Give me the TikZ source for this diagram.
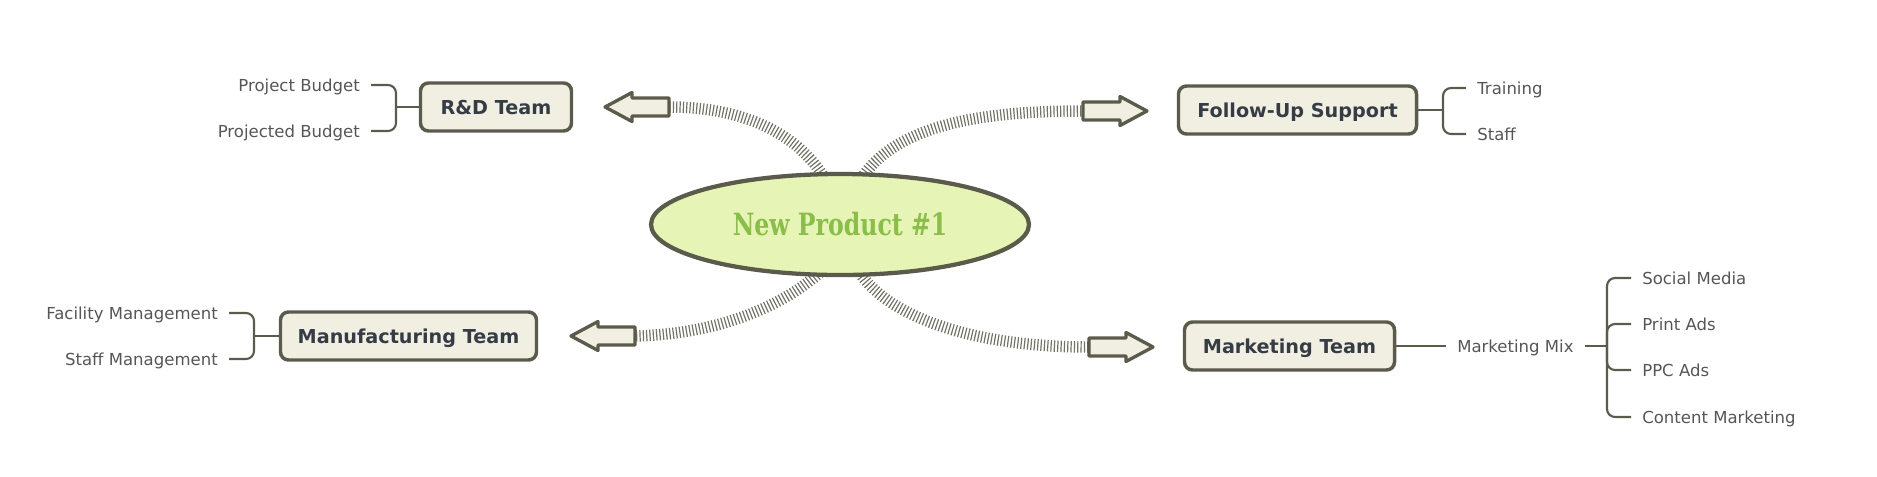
\documentclass[tikz,border=0pt]{standalone}
\usepackage{graphicx}
\usepackage{fontspec}
\setmainfont{DejaVu Sans}
\newfontfamily\slabfont{DejaVu Serif}
\usetikzlibrary{shapes.geometric,backgrounds,calc}
\definecolor{edge}{HTML}{5B5B4C}
\definecolor{boxfill}{HTML}{F0EFE2}
\definecolor{boxtext}{HTML}{363C45}
\definecolor{leaftext}{HTML}{565656}
\definecolor{ellfill}{HTML}{E6F4B6}
\definecolor{titlegreen}{HTML}{8ABD4A}
\definecolor{hatchc}{HTML}{727266}
\begin{document}
\begin{tikzpicture}[x=0.75pt,y=-0.75pt,
  topic/.style={draw=edge, line width=2.6pt, fill=boxfill, rounded corners=6pt,
    minimum height=36pt, inner sep=0pt, text height=10.5pt, text depth=0pt,
    font=\fontsize{14.4pt}{16pt}\selectfont\bfseries, text=boxtext},
  leaf/.style={inner ysep=0pt, inner xsep=8.25pt, text height=9.05pt, text depth=0pt,
    font=\fontsize{12.4pt}{14pt}\selectfont, text=leaftext},
  br/.style={draw=edge, line width=1.6pt, rounded corners=6pt},
  hatch/.style={draw=hatchc, line width=8.6pt, dash pattern=on 0.9pt off 1.6pt},
  barrow/.style={draw=edge, fill=boxfill, line width=2.5pt, line join=round},
]
\useasboundingbox (0,0) rectangle (1877,476);

% central topic
\node[ellipse, draw=edge, line width=3.2pt, fill=ellfill, inner sep=0pt,
  minimum width=283.5pt, minimum height=75.75pt,
  font=\slabfont\fontsize{23pt}{26pt}\selectfont\bfseries, text=titlegreen]
  (c) at (840,224.5) {\scalebox{0.77}[1]{New Product \#1}};

% arrow tails
\coordinate (tla) at (669,107);
\coordinate (tra) at (1083,111);
\coordinate (bla) at (635,336);
\coordinate (bra) at (1089,347);

\begin{scope}[on background layer]
  \draw[hatch] ([shift={(-14,-44)}]c.center) .. controls (795,128) and (735,107) .. (tla);
  \draw[hatch] ([shift={(20,-44)}]c.center) .. controls (895,125) and (980,111) .. (tra);
  \draw[hatch] ([shift={(-18,46)}]c.center) .. controls (785,305) and (720,334) .. (bla);
  \draw[hatch] ([shift={(18,46)}]c.center) .. controls (890,320) and (980,347) .. (bra);
\end{scope}

% block arrows
\draw[barrow] (tla) ++(0,-9) -- ++(-37,0) -- ++(0,-5.5) -- ++(-27,14.5) -- ++(27,14.5) -- ++(0,-5.5) -- ++(37,0) -- cycle;
\draw[barrow] (bla) ++(0,-9) -- ++(-37,0) -- ++(0,-5.5) -- ++(-27,14.5) -- ++(27,14.5) -- ++(0,-5.5) -- ++(37,0) -- cycle;
\draw[barrow] (tra) ++(0,-9) -- ++(37,0) -- ++(0,-5.5) -- ++(27,14.5) -- ++(-27,14.5) -- ++(0,-5.5) -- ++(-37,0) -- cycle;
\draw[barrow] (bra) ++(0,-9) -- ++(37,0) -- ++(0,-5.5) -- ++(27,14.5) -- ++(-27,14.5) -- ++(0,-5.5) -- ++(-37,0) -- cycle;

% main topics
\node[topic, minimum width=113.25pt] (rd) at (496,107) {R\&D Team};
\node[topic, minimum width=178.5pt] (fu) at (1297.5,110) {Follow-Up Support};
\node[topic, minimum width=192pt] (mf) at (408.5,336) {Manufacturing Team};
\node[topic, minimum width=157.5pt] (mk) at (1289.5,346) {Marketing Team};

% R&D subtopics
\node[leaf, anchor=east] (pb) at (371,85) {Project Budget};
\node[leaf, anchor=east] (pdb) at (371,131) {Projected Budget};
\coordinate (rdj) at (396,107);
\draw[br] (rd.west) -- (rdj);
\draw[br] (pb.east) -| (rdj) |- (pdb.east);

% Follow-Up subtopics
\node[leaf, anchor=west] (tr) at (1466,88) {Training};
\node[leaf, anchor=west] (sf) at (1466,134) {Staff};
\coordinate (fuj) at (1443,110);
\draw[br] (fu.east) -- (fuj);
\draw[br] (tr.west) -| (fuj) |- (sf.west);

% Manufacturing subtopics
\node[leaf, anchor=east] (fm) at (229,313) {Facility Management};
\node[leaf, anchor=east] (sm) at (229,359) {Staff Management};
\coordinate (mfj) at (254,336);
\draw[br] (mf.west) -- (mfj);
\draw[br] (fm.east) -| (mfj) |- (sm.east);

% Marketing subtopics
\node[leaf, anchor=west] (mm) at (1446,346) {Marketing Mix};
\draw[br] (mk.east) -- (mm.west);
\coordinate (mkj) at (1607,346);
\draw[br] (mm.east) -- (mkj);
\node[leaf, anchor=west] (so) at (1631,278) {Social Media};
\node[leaf, anchor=west] (pa) at (1631,324) {Print Ads};
\node[leaf, anchor=west] (pp) at (1631,370) {PPC Ads};
\node[leaf, anchor=west] (cm) at (1631,417) {Content Marketing};
\draw[br] (so.west) -| (mkj) |- (cm.west);
\draw[br] (pa.west) -| (mkj);
\draw[br] (pp.west) -| (mkj);
\end{tikzpicture}
\end{document}
